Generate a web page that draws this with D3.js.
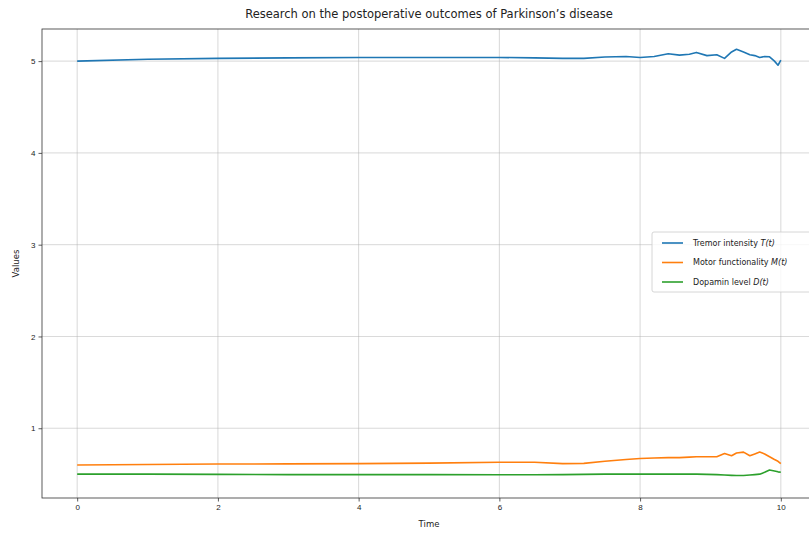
<!DOCTYPE html>
<html>
<head>
<meta charset="utf-8">
<script src="https://cdn.jsdelivr.net/npm/d3@7"></script>
<style>
  body { margin: 0; background: #fff; }
  svg { font-family: "DejaVu Sans", sans-serif; }
  .tick text { font-size: 8px; fill: #222; }
  .grid line { stroke: #b0b0b0; stroke-width: 0.8; opacity: 0.6; }
</style>
</head>
<body>
<div class="render"></div>
<script>
"use strict";

var width = 809;
var height = 534;

// time points (shared by all series)
var times = [0, 1, 2, 3, 4, 5, 6, 6.5, 6.9, 7.2, 7.5, 7.8, 8.0, 8.2, 8.4, 8.56, 8.7, 8.8, 8.95, 9.09,
  9.2, 9.3, 9.37, 9.47, 9.56, 9.63, 9.7, 9.77, 9.84, 9.91, 9.96, 10];
var tremor = [5.0, 5.02, 5.03, 5.035, 5.04, 5.04, 5.04, 5.035, 5.03, 5.03, 5.045, 5.05, 5.04, 5.05, 5.08, 5.065,
  5.075, 5.095, 5.06, 5.07, 5.03, 5.1, 5.13, 5.1, 5.07, 5.06, 5.04, 5.05, 5.047, 5.0, 4.955, 5.01];
var motor = [0.6, 0.605, 0.61, 0.612, 0.615, 0.62, 0.63, 0.63, 0.615, 0.617, 0.64, 0.66, 0.67, 0.675, 0.68, 0.68,
  0.685, 0.69, 0.69, 0.69, 0.725, 0.7, 0.73, 0.74, 0.7, 0.72, 0.74, 0.72, 0.69, 0.66, 0.64, 0.615];
var dopamin = [0.5, 0.5, 0.497, 0.495, 0.495, 0.495, 0.493, 0.493, 0.495, 0.497, 0.5, 0.5, 0.5, 0.5, 0.5, 0.5,
  0.5, 0.5, 0.497, 0.495, 0.49, 0.487, 0.485, 0.485, 0.49, 0.495, 0.5, 0.52, 0.545, 0.535, 0.525, 0.52];

var seriesNames = ["Tremor intensity ", "Motor functionality ", "Dopamin level "];
var seriesVars = ["T(t)", "M(t)", "D(t)"];
var seriesColors = ["#1f77b4", "#ff7f0e", "#2ca02c"];
var xTicks = [0, 2, 4, 6, 8, 10];
var yTicks = [1, 2, 3, 4, 5];

var series = [tremor, motor, dopamin].map(function (vals, i) {
  return { name: seriesNames[i], v: seriesVars[i], color: seriesColors[i],
    points: vals.map(function (v, j) { return [times[j], v]; }) };
});

var pLeft = 42, pRight = 816, pTop = 29, pBottom = 498;

var x = d3.scaleLinear().domain([-0.5, 10.5]).range([pLeft, pRight]);
var y = d3.scaleLinear().domain([0.24, 5.35]).range([pBottom, pTop]);

var svg = d3.select('.render').append('svg').attr('width', width).attr('height', height);

// grid
svg.append('g').attr('class', 'grid').selectAll('line').data(xTicks).enter().append('line')
   .attr('x1', function (d) { return x(d); }).attr('x2', function (d) { return x(d); })
   .attr('y1', pTop).attr('y2', pBottom);
svg.append('g').attr('class', 'grid').selectAll('line').data(yTicks).enter().append('line')
   .attr('y1', function (d) { return y(d); }).attr('y2', function (d) { return y(d); })
   .attr('x1', pLeft).attr('x2', pRight);

// lines
var line = d3.line().x(function (d) { return x(d[0]); }).y(function (d) { return y(d[1]); });
svg.selectAll('.series').data(series).enter().append('path').attr('class', 'series')
   .attr('d', function (d) { return line(d.points); })
   .attr('fill', 'none').attr('stroke', function (d) { return d.color; })
   .attr('stroke-width', 1.6).attr('stroke-linejoin', 'round');

// frame
svg.append('rect').attr('x', pLeft).attr('y', pTop).attr('width', pRight - pLeft).attr('height', pBottom - pTop)
   .attr('fill', 'none').attr('stroke', '#333').attr('stroke-width', 0.8);

// axes
var xAxis = d3.axisBottom(x).tickValues(xTicks).tickSize(3.5).tickPadding(3).tickFormat(d3.format('d'));
var gx = svg.append('g').attr('transform', 'translate(0,' + pBottom + ')').call(xAxis);
gx.select('.domain').remove();
var yAxis = d3.axisLeft(y).tickValues(yTicks).tickSize(3.5).tickPadding(3).tickFormat(d3.format('d'));
var gy = svg.append('g').attr('transform', 'translate(' + pLeft + ',0)').call(yAxis);
gy.select('.domain').remove();
svg.selectAll('.tick line').attr('stroke', '#333').attr('stroke-width', 0.8);

// labels
svg.append('text').attr('x', (pLeft + pRight) / 2).attr('y', 18).attr('text-anchor', 'middle')
   .style('font-size', '11.5px').style('fill', '#222')
   .text("Research on the postoperative outcomes of Parkinson\u2019s disease");
svg.append('text').attr('x', (pLeft + pRight) / 2).attr('y', 527).attr('text-anchor', 'middle')
   .style('font-size', '8.5px').style('fill', '#222').text('Time');
svg.append('text').attr('transform', 'translate(19,' + (pTop + pBottom) / 2 + ') rotate(-90)')
   .attr('text-anchor', 'middle').style('font-size', '8.5px').style('fill', '#222').text('Values');

// legend
var lg = svg.append('g').attr('transform', 'translate(652,232)');
lg.append('rect').attr('width', 170).attr('height', 60).attr('rx', 2)
  .attr('fill', '#fff').attr('fill-opacity', 0.8).attr('stroke', '#ccc').attr('stroke-width', 0.8);
var items = lg.selectAll('.item').data(series).enter().append('g')
  .attr('transform', function (d, i) { return 'translate(0,' + (11 + i * 19.5) + ')'; });
items.append('line').attr('x1', 10).attr('x2', 31).attr('stroke', function (d) { return d.color; })
  .attr('stroke-width', 1.6);
var txt = items.append('text').attr('x', 41).attr('dy', '0.35em').style('font-size', '8px').style('fill', '#222');
txt.append('tspan').text(function (d) { return d.name; });
txt.append('tspan').style('font-style', 'italic').text(function (d) { return d.v; });
</script>
</body>
</html>
